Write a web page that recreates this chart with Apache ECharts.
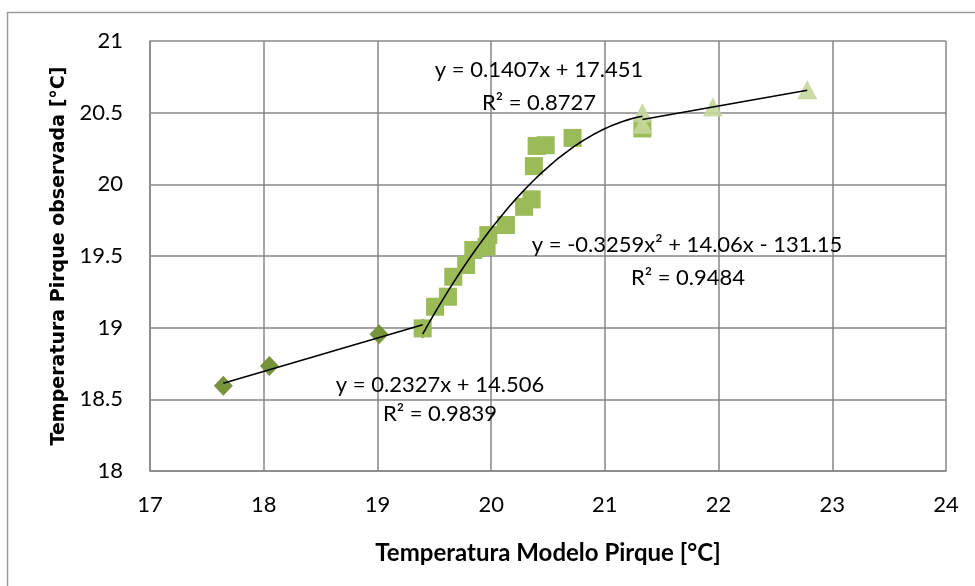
<!DOCTYPE html>
<html>
<head>
<meta charset="utf-8">
<script src="https://cdn.jsdelivr.net/npm/echarts@6/dist/echarts.min.js"></script>
<style>html,body{margin:0;padding:0;background:#fff;}#c{width:975px;height:586px;}</style>
</head>
<body>
<div id="c"></div>
<script>
// Data
const diamondX = [17.645, 18.05, 19.014, 19.398];
const diamondY = [18.594, 18.733, 18.954, 18.995];
const squareX = [19.398, 19.507, 19.62, 19.667, 19.78, 19.843, 19.96, 19.975, 20.13, 20.29, 20.356, 20.376, 20.40, 20.48, 20.716, 21.33];
const squareY = [18.995, 19.146, 19.216, 19.355, 19.437, 19.542, 19.565, 19.646, 19.716, 19.843, 19.895, 20.127, 20.268, 20.273, 20.324, 20.39];
const triangleX = [21.33, 21.33, 21.95, 22.78];
const triangleY = [20.50, 20.42, 20.54, 20.66];
// Trendline coefficients (as shown on the chart)
const trendDiamond = [0.2327, 14.506];           // y = a x + b
const trendSquare = [-0.3259, 14.06, -131.15];   // y = a x^2 + b x + c
const trendTriangle = [0.1407, 17.451];
const xTicks = [17, 24, 1];
const yTicks = [18, 21, 0.5];

function zip(xs, ys) { return xs.map((x, i) => [x, ys[i]]); }
function linePts(c, xs) {
  const lo = Math.min(...xs), hi = Math.max(...xs);
  return [[lo, c[0] * lo + c[1]], [hi, c[0] * hi + c[1]]];
}
function quadPts(c, xs) {
  const lo = Math.min(...xs), hi = Math.max(...xs);
  const pts = [];
  const n = 60;
  for (let i = 0; i <= n; i++) {
    const x = lo + (hi - lo) * i / n;
    pts.push([x, c[0] * x * x + c[1] * x + c[2]]);
  }
  return pts;
}

const font = 'Lato, "Open Sans", sans-serif';
const gridColor = '#878787';
const chart = echarts.init(document.getElementById('c'));
const trendStyle = { color: '#000', width: 1.6 };
const annStyle = { fill: '#000', font: '22px ' + font, textAlign: 'center', textVerticalAlign: 'middle' };

chart.setOption({
  animation: false,
  backgroundColor: '#fff',
  grid: { left: 150, right: 29, top: 41, bottom: 115 },
  xAxis: {
    type: 'value', min: xTicks[0], max: xTicks[1], interval: xTicks[2],
    axisLine: { show: true, lineStyle: { color: gridColor, width: 1.5 } },
    axisTick: { show: false },
    splitLine: { show: true, lineStyle: { color: gridColor, width: 1.5 } },
    axisLabel: { color: '#000', fontSize: 22, fontFamily: font, margin: 23 },
    name: 'Temperatura Modelo Pirque [°C]', nameLocation: 'middle', nameGap: 70,
    nameTextStyle: { color: '#000', fontSize: 24, fontWeight: 'bold', fontFamily: font }
  },
  yAxis: {
    type: 'value', min: yTicks[0], max: yTicks[1], interval: yTicks[2],
    axisLine: { show: true, lineStyle: { color: gridColor, width: 1.5 } },
    axisTick: { show: false },
    splitLine: { show: true, lineStyle: { color: gridColor, width: 1.5 } },
    axisLabel: { color: '#000', fontSize: 22, fontFamily: font, margin: 27 },
    name: 'Temperatura Pirque observada [°C]', nameLocation: 'middle', nameGap: 77,
    nameTextStyle: { color: '#000', fontSize: 19, fontWeight: 'bold', fontFamily: '"DejaVu Sans", sans-serif' }
  },
  graphic: [
    { type: 'rect', shape: { x: 7.5, y: 12.5, width: 1000, height: 600 }, style: { fill: 'none', stroke: '#9a9a9a', lineWidth: 1.5 }, silent: true, z: -10 },
    { type: 'text', x: 539, y: 70, style: Object.assign({ text: 'y = 0.1407x + 17.451' }, annStyle), z: 100 },
    { type: 'text', x: 539, y: 103, style: Object.assign({ text: 'R² = 0.8727' }, annStyle), z: 100 },
    { type: 'text', x: 687, y: 245, style: Object.assign({ text: 'y = -0.3259x² + 14.06x - 131.15' }, annStyle), z: 100 },
    { type: 'text', x: 688, y: 278, style: Object.assign({ text: 'R² = 0.9484' }, annStyle), z: 100 },
    { type: 'text', x: 440, y: 385, style: Object.assign({ text: 'y = 0.2327x + 14.506' }, annStyle), z: 100 },
    { type: 'text', x: 440, y: 414, style: Object.assign({ text: 'R² = 0.9839' }, annStyle), z: 100 }
  ],
  series: [
    { type: 'scatter', data: zip(diamondX, diamondY), symbol: 'diamond', symbolSize: [19, 20],
      itemStyle: { color: '#77933C', opacity: 1 }, z: 2 },
    { type: 'scatter', data: zip(squareX, squareY), symbol: 'rect', symbolSize: 18,
      itemStyle: { color: '#9BBB59', opacity: 1 }, z: 3 },
    { type: 'scatter', data: zip(triangleX, triangleY), symbol: 'triangle', symbolSize: [20, 19],
      itemStyle: { color: 'rgba(196,215,155,0.9)', opacity: 1 }, z: 4 },
    { type: 'line', data: linePts(trendDiamond, diamondX), showSymbol: false, symbol: 'none', lineStyle: trendStyle, z: 10 },
    { type: 'line', data: quadPts(trendSquare, squareX), showSymbol: false, symbol: 'none', smooth: false, lineStyle: trendStyle, z: 10 },
    { type: 'line', data: linePts(trendTriangle, triangleX), showSymbol: false, symbol: 'none', lineStyle: trendStyle, z: 10 }
  ]
});
</script>
</body>
</html>
